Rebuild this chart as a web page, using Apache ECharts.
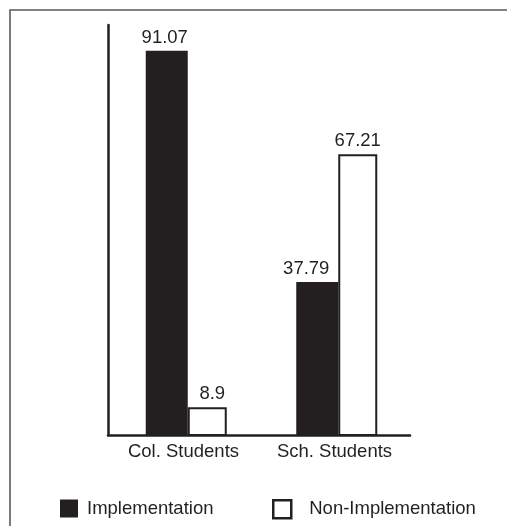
<!DOCTYPE html>
<html>
<head>
<meta charset="utf-8">
<title>Implementation by student group</title>
<script src="https://cdn.jsdelivr.net/npm/echarts@6/dist/echarts.min.js"></script>
<style>
  html, body { margin: 0; padding: 0; background: #fff; }
  #chart { width: 507px; height: 526px; }
</style>
</head>
<body>
<div id="chart"></div>
<script>
// Student groups and the share (%) in each group
const categories = ['Col. Students', 'Sch. Students'];
const implementation = [91.07, 37.79];
const nonImplementation = [8.9, 67.21];
const seriesNames = ['Implementation', 'Non-Implementation'];

// small horizontal nudges of the value labels above the bars
const implLabelShift = [-2, -11];
const nonImplLabelShift = [5, 0];

const ink = '#231f20';
const font = '"Liberation Sans", Arial, Helvetica, sans-serif';
const fontSize = 18.5;
const yMin = 2.5, yMax = 97;

function withLabelShift(values, shifts) {
  return values.map((v, i) => ({ value: v, label: { offset: [shifts[i], 0] } }));
}

function legendBlock(left, textPad, item) {
  return {
    left: left,
    top: 499,
    padding: 0,
    itemWidth: 18,
    itemHeight: 18,
    icon: 'rect',
    selectedMode: false,
    textStyle: { fontSize: fontSize, color: ink, fontFamily: font, padding: [0, 0, 0, textPad] },
    data: [item]
  };
}

const chart = echarts.init(document.getElementById('chart'), null, { renderer: 'canvas' });

chart.setOption({
  animation: false,
  backgroundColor: '#ffffff',
  textStyle: { fontFamily: font },
  graphic: [{
    type: 'rect',
    shape: { x: 10, y: 10, width: 700, height: 700 },
    style: { fill: 'none', stroke: '#5a5a5a', lineWidth: 1.6 },
    silent: true
  }],
  legend: [
    legendBlock(60, 4, { name: seriesNames[0], itemStyle: { color: ink, borderWidth: 0 } }),
    legendBlock(272, 13, { name: seriesNames[1], itemStyle: { color: '#ffffff', borderColor: ink, borderWidth: 2.5 } })
  ],
  grid: [
    // frame with the two axis lines and category labels
    { left: 108, right: 97, top: 25, bottom: 91 },
    // bars
    { left: 111, right: 95, top: 25, bottom: 91 }
  ],
  xAxis: [
    {
      type: 'category', gridIndex: 0, data: categories,
      axisLine: { lineStyle: { color: ink, width: 2.5 } },
      axisTick: { show: false },
      axisLabel: { fontSize: fontSize, color: ink, fontFamily: font, margin: 7 }
    },
    { type: 'category', gridIndex: 1, data: categories, show: false }
  ],
  yAxis: [
    {
      type: 'value', gridIndex: 0, min: yMin, max: yMax,
      axisLine: { show: true, lineStyle: { color: ink, width: 2.5 } },
      axisTick: { show: false },
      axisLabel: { show: false },
      splitLine: { show: false }
    },
    { type: 'value', gridIndex: 1, min: yMin, max: yMax, show: false, splitLine: { show: false } }
  ],
  series: [
    {
      name: seriesNames[0],
      type: 'bar',
      xAxisIndex: 1, yAxisIndex: 1,
      data: withLabelShift(implementation, implLabelShift),
      barWidth: 42,
      barGap: '0%',
      itemStyle: { color: ink },
      label: { show: true, position: 'top', distance: 3, fontSize: fontSize, color: ink, fontFamily: font }
    },
    {
      name: seriesNames[1],
      type: 'bar',
      xAxisIndex: 1, yAxisIndex: 1,
      data: withLabelShift(nonImplementation, nonImplLabelShift),
      barWidth: 39,
      barGap: '0%',
      itemStyle: { color: '#ffffff', borderColor: ink, borderWidth: 2 },
      label: { show: true, position: 'top', distance: 4, fontSize: fontSize, color: ink, fontFamily: font }
    }
  ]
});
</script>
</body>
</html>
